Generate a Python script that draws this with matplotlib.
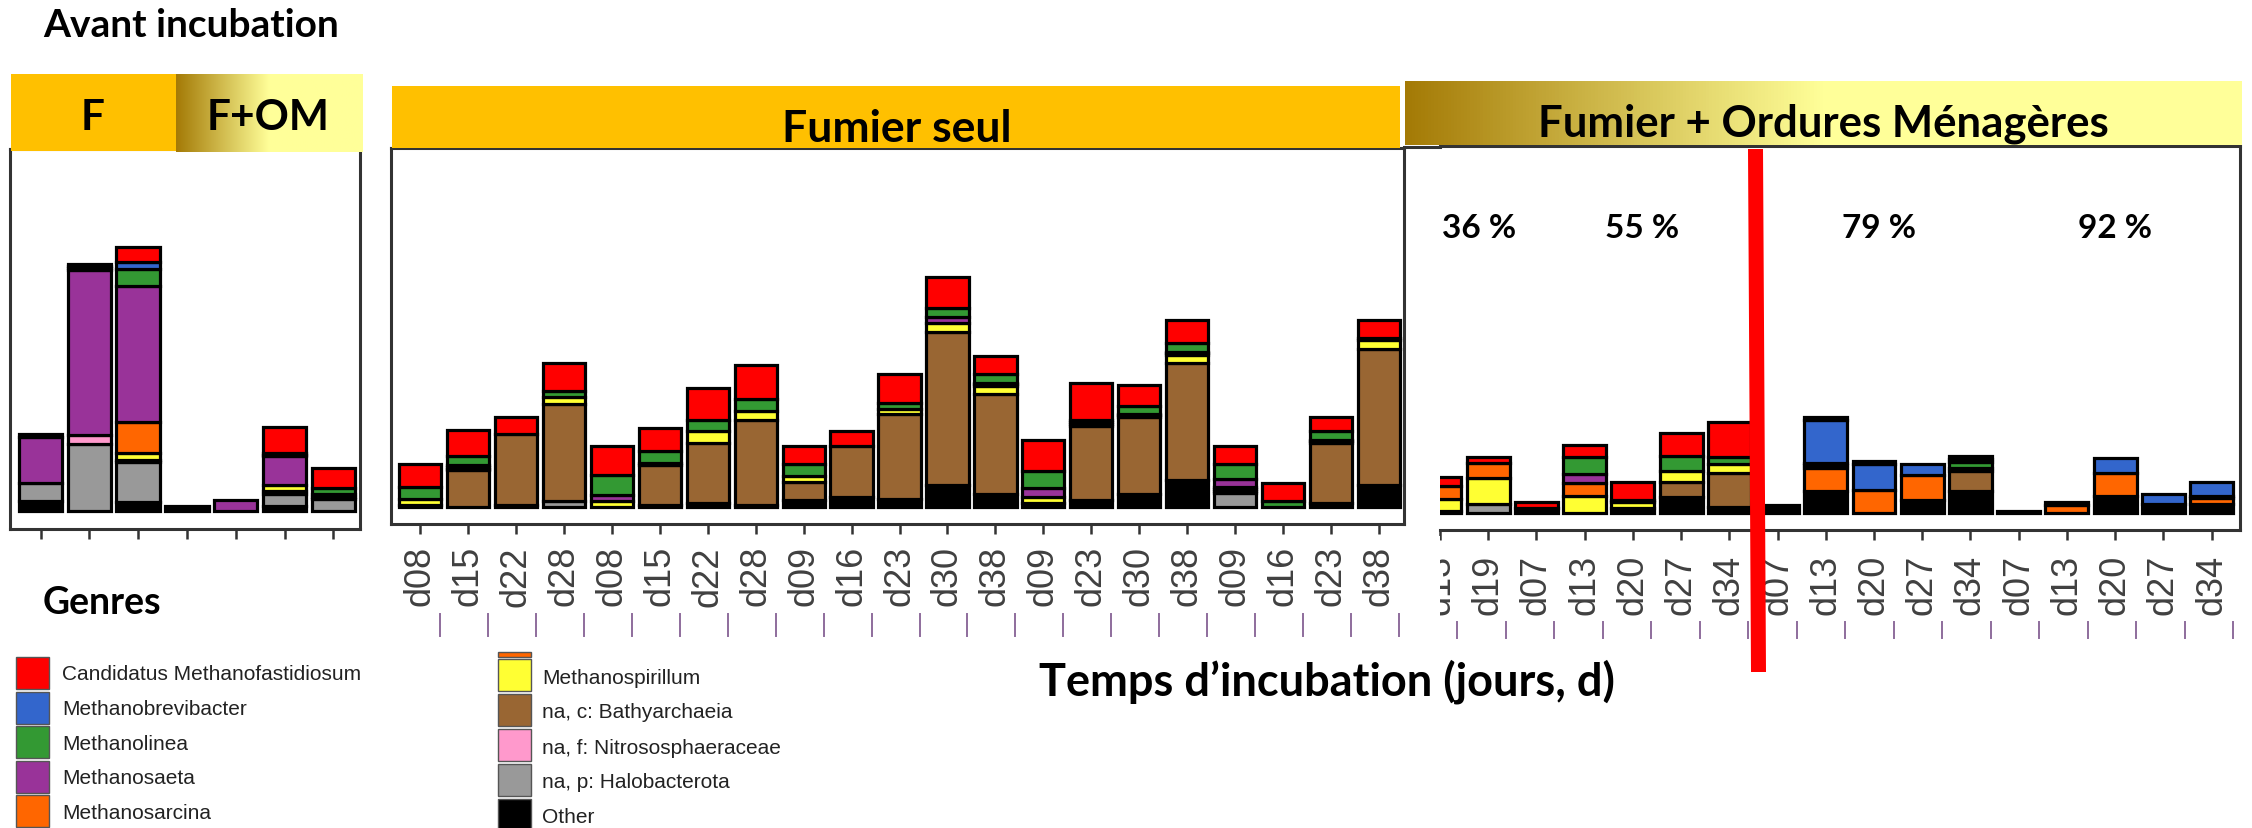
import matplotlib
matplotlib.use('Agg')
import matplotlib.pyplot as plt
import numpy as np
from matplotlib.patches import Rectangle, Polygon
from matplotlib.colors import LinearSegmentedColormap

W, H = 2252, 829

# genres, du haut de la legende vers le bas (= du haut de la pile vers le bas)
genres = ['Candidatus Methanofastidiosum', 'Methanobrevibacter', 'Methanolinea',
          'Methanosaeta', 'Methanosarcina', 'Methanospirillum',
          'na, c: Bathyarchaeia', 'na, f: Nitrososphaeraceae',
          'na, p: Halobacterota', 'Other']
couleurs = ['#FF0000', '#3366CC', '#339933', '#993399', '#FF6600',
            '#FFFF33', '#996633', '#FF99CC', '#999999', '#000000']

# --- Avant incubation (F puis F+OM) ---
av_cand = [2.7, 2, 14.7, 0, 0, 25.7, 20]
av_brev = [0, 2, 7, 0, 0, 1.6, 0]
av_linea = [0, 2, 17, 0, 0, 1.7, 6.3]
av_saeta = [45.7, 165, 136, 0, 11.3, 29, 0]
av_sarc = [0, 0, 31.7, 0, 0, 0, 0]
av_spir = [0, 0, 6.3, 0, 0, 6, 0]
av_bathy = [0, 0, 0, 0, 0, 0, 2.3]
av_nitro = [0, 9, 2.8, 0, 0, 2.8, 2.3]
av_halo = [18, 67, 39.7, 0, 0, 11.3, 12]
av_other = [10.3, 0, 8.7, 5.3, 0, 5.3, 0]

# --- Fumier seul ---
fs_labels = ['d08', 'd15', 'd22', 'd28', 'd08', 'd15', 'd22', 'd28', 'd09', 'd16', 'd23',
             'd30', 'd38', 'd09', 'd23', 'd30', 'd38', 'd09', 'd16', 'd23', 'd38']
fs_cand = [23.3, 26, 17, 28.3, 29, 23, 31.3, 34, 18, 15, 29, 31, 18, 31, 37, 20.3, 23, 18, 18, 14, 18]
fs_brev = [0] * 21
fs_linea = [12, 9, 0, 6.3, 20, 12, 11, 12, 12, 0, 6, 9, 9, 17, 2, 8, 9, 15, 6, 9, 2]
fs_saeta = [0, 1.6, 0, 0, 6.3, 0, 0, 0, 0, 0, 0, 5.3, 1.5, 9, 0, 1.5, 1.5, 8, 0, 1.5, 0]
fs_sarc = [0, 1.7, 0, 0, 0, 0, 0, 0, 0, 0, 0, 0, 1.5, 0, 2, 0, 1.5, 0, 0, 0, 0]
fs_spir = [5.3, 1.7, 0, 6.3, 6, 2, 12, 9, 6, 0, 5, 9, 8, 6, 2, 1.5, 8, 2, 0, 1.5, 9]
fs_bathy = [0, 36.7, 71, 97.3, 0, 40, 60, 85, 18, 51, 85.7, 153, 100, 0, 74, 77, 117, 2, 0, 60, 136]
fs_nitro = [0, 0, 0, 0, 0, 0, 0, 0, 0, 0, 0, 0, 0, 0, 0, 0, 0, 2, 0, 0, 0]
fs_halo = [0, 0, 0, 6, 0, 0, 0, 0, 0, 0, 0, 0, 0, 0, 0, 0, 0, 14, 0, 0, 0]
fs_other = [2.3, 0, 2.3, 0, 0, 2.3, 4.3, 2.3, 7.3, 10.3, 7.7, 22.3, 13.3, 4.3, 7.3, 13.3, 27.3, 0, 0, 4.3, 22.3]

# --- Fumier + Ordures Menageres ---
fo_labels = ['d13', 'd19', 'd07', 'd13', 'd20', 'd27', 'd34', 'd07', 'd13', 'd20', 'd27',
             'd34', 'd07', 'd13', 'd20', 'd27', 'd34']
fo_cand = [8.7, 6, 6, 12.3, 18, 23, 35.3, 0, 3, 3, 0, 2.8, 0, 0, 0, 0, 0]
fo_brev = [0, 0, 0, 0, 0, 0, 0, 0, 43, 26, 11, 2.8, 0, 2.8, 14.7, 10.7, 14.7]
fo_linea = [0, 0, 0, 17, 2, 15, 6.3, 0, 2.5, 0, 0, 6, 0, 0, 0, 0, 0]
fo_saeta = [0, 0, 0, 9.3, 0, 0, 0, 0, 2.5, 0, 0, 0, 0, 0, 0, 0, 2]
fo_sarc = [12.7, 14.7, 0, 12.3, 0, 0, 0, 0, 23, 23.3, 24.3, 0, 0, 8.7, 23.3, 0, 5.7]
fo_spir = [12, 26, 0, 17.7, 6, 11, 9.3, 0, 0, 0, 0, 2.8, 0, 0, 0, 0, 0]
fo_bathy = [0, 0, 0, 0, 0, 15, 34.3, 0, 0, 0, 0, 20, 0, 0, 0, 0, 0]
fo_nitro = [0] * 17
fo_halo = [0, 9.7, 0, 0, 0, 0, 0, 0, 0, 0, 0, 0, 0, 0, 0, 0, 0]
fo_other = [2.7, 0, 5.7, 0, 5.7, 16.7, 6, 8.7, 22.7, 0, 13.7, 22.7, 2.7, 0, 17, 9, 9.3]

pct_labels = ['36 %', '55 %', '79 %', '92 %']
pct_pos = [0.8, 4.2, 9.1, 14.0]

GRIS = '#333333'
LW = 2.3


def fr(x0, y0, x1, y1):
    return [x0 / W, 1 - y1 / H, (x1 - x0) / W, (y1 - y0) / H]


def empiler(ax, couches, largeur):
    x = np.arange(len(couches[0]))
    bas = np.zeros(len(x))
    # du bas (Other) vers le haut (Candidatus)
    for vals, c in zip(couches[::-1], couleurs[::-1]):
        vals = np.array(vals, dtype=float)
        m = vals > 0
        ax.bar(x[m], vals[m], largeur, bottom=bas[m], color=c,
               edgecolor='black', linewidth=LW, zorder=3)
        bas += vals


def habiller(ax, xlim, ylim, labels, pad):
    ax.set_xlim(*xlim)
    ax.set_ylim(*ylim)
    ax.set_yticks([])
    ax.set_xticks(range(len(labels)))
    ax.set_xticklabels(labels, rotation=90, fontsize=26, color='#404040',
                       fontfamily='Liberation Sans')
    ax.tick_params(axis='x', length=7.2, width=1.8, color=GRIS, pad=pad)
    for s in ax.spines.values():
        s.set_color(GRIS)
        s.set_linewidth(2.2)


fig = plt.figure(figsize=(W / 100, H / 100), dpi=100)

ax1 = fig.add_axes(fr(10, 150, 360, 530))
empiler(ax1, [av_cand, av_brev, av_linea, av_saeta, av_sarc, av_spir,
              av_bathy, av_nitro, av_halo, av_other], 0.89)
habiller(ax1, (-0.625, 6.547), (-18.2, 361.8), [''] * 7, 8)

ax2 = fig.add_axes(fr(391, 149, 1404, 525))
empiler(ax2, [fs_cand, fs_brev, fs_linea, fs_saeta, fs_sarc, fs_spir,
              fs_bathy, fs_nitro, fs_halo, fs_other], 0.88)
habiller(ax2, (-0.605, 20.52), (-17, 359), fs_labels, 8)

ax3 = fig.add_axes(fr(1440, 147, 2240, 531))
empiler(ax3, [fo_cand, fo_brev, fo_linea, fo_saeta, fo_sarc, fo_spir,
              fo_bathy, fo_nitro, fo_halo, fo_other], 0.89)
habiller(ax3, (0.093, 16.59), (-16.8, 367.2), fo_labels, 10)
ax3.spines['left'].set_visible(False)
for t, xp in zip(pct_labels, pct_pos):
    ax3.text(xp, 276, t, ha='center', va='baseline', fontsize=24,
             fontfamily='Lato', fontweight='bold', zorder=5)

# calque en pixels pour les bandeaux, titres, legende
ov = fig.add_axes([0, 0, 1, 1], zorder=10)
ov.patch.set_visible(False)

deg = LinearSegmentedColormap.from_list('deg', [(0, '#A47A06'), (0.5, '#FFFF99'), (1, '#FFFF99')])
grad = np.linspace(0, 1, 256)[None, :]

ov.add_patch(Rectangle((11, 75), 165, 77, color='#FFC000', lw=0))
ov.imshow(grad, cmap=deg, extent=(176, 363, 153, 75), aspect='auto', zorder=1)
ov.add_patch(Rectangle((392, 87), 1008, 62, color='#FFC000', lw=0))
ov.imshow(grad, cmap=deg, extent=(1405, 2242, 146, 82), aspect='auto', zorder=1)
ov.plot([1404, 1440], [147.5, 147.5], color=GRIS, lw=2.2)

titre = dict(fontfamily='Lato', fontweight='bold', color='black', va='baseline', zorder=5)
ov.text(43, 37, 'Avant incubation', ha='left', fontsize=28, **titre)
ov.text(93, 130, 'F', ha='center', fontsize=30.5, **titre)
ov.text(268, 130, 'F+OM', ha='center', fontsize=30.5, **titre)
ov.text(897, 142, 'Fumier seul', ha='center', fontsize=32, **titre)
ov.text(1823, 136, 'Fumier + Ordures Ménagères', ha='center', fontsize=31.5, **titre)
ov.text(43, 614, 'Genres', ha='left', fontsize=27, **titre)
ov.text(1327, 695, 'Temps d’incubation (jours, d)', ha='center', fontsize=32.5, **titre)

# bouts de libelles coupes sous les etiquettes
def px(xlim, x0, x1, i):
    return x0 + (i - xlim[0]) / (xlim[1] - xlim[0]) * (x1 - x0)

for i in range(len(fs_labels)):
    xm = px((-0.605, 20.52), 391, 1404, i) + 20
    ov.plot([xm, xm], [615, 637], color='#8E6C9C', lw=1.4)
for i in range(len(fo_labels)):
    xm = px((0.093, 16.59), 1440, 2240, i) + 22
    ov.plot([xm, xm], [623, 639], color='#8E6C9C', lw=1.4)
ov.add_patch(Rectangle((1405, 537), 35, 110, color='white', lw=0, zorder=4))

# trait rouge
ov.add_patch(Polygon([(1748, 150), (1763, 150), (1766, 673), (1751, 673)],
                     closed=True, color='#FF0000', lw=0, zorder=6))

# legende
for k in range(5):
    y0 = 658 + 34.6 * k
    ov.add_patch(Rectangle((16, y0), 33, 32, facecolor=couleurs[k], edgecolor='#555555', lw=1))
    ov.text(62, y0 + 17, genres[k], ha='left', va='center', fontsize=15,
            fontfamily='Liberation Sans', color='#222222')
ov.add_patch(Rectangle((498, 653), 33, 5, facecolor=couleurs[4], edgecolor='#555555', lw=1))
for k in range(5, 10):
    y0 = 660 + 35 * (k - 5)
    ov.add_patch(Rectangle((498, y0), 33, 32, facecolor=couleurs[k], edgecolor='#555555', lw=1))
    ov.text(542, y0 + 18, genres[k], ha='left', va='center', fontsize=15,
            fontfamily='Liberation Sans', color='#222222')

ov.set_xlim(0, W)
ov.set_ylim(H, 0)
ov.axis('off')

fig.savefig('out.png', dpi=100)
